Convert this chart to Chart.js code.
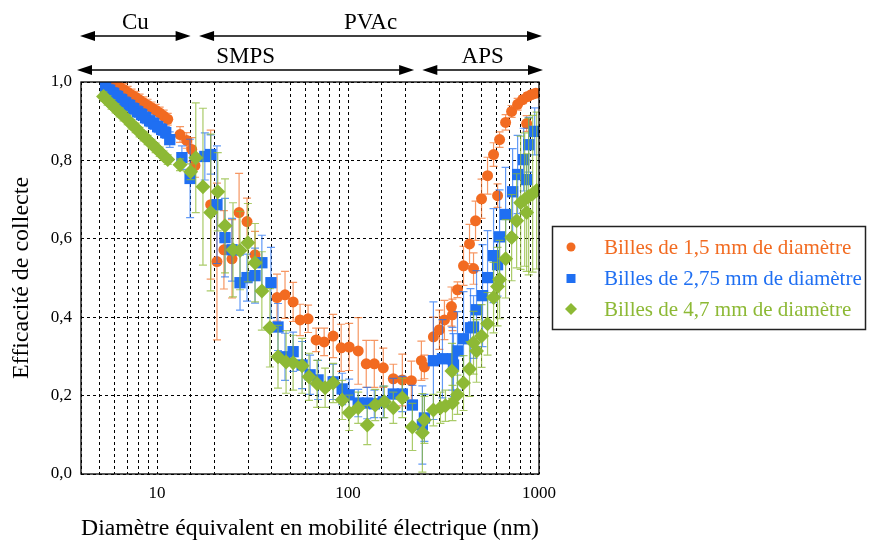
<!DOCTYPE html>
<html>
<head>
<meta charset="utf-8">
<script src="https://cdn.jsdelivr.net/npm/chart.js@4.4.1/dist/chart.umd.min.js"></script>
<style>
  html, body { margin: 0; padding: 0; background: #fff; }
  #wrap { width: 869px; height: 543px; }
</style>
</head>
<body>
<div id="wrap"><canvas id="c" width="869" height="543"></canvas></div>
<script>
// Collection efficiency vs. electrical mobility equivalent diameter (nm)
const seriesLabels = [
  'Billes de 1,5 mm de diamètre',
  'Billes de 2,75 mm de diamètre',
  'Billes de 4,7 mm de diamètre'
];
const xTitle = 'Diamètre équivalent en mobilité électrique (nm)';
const yTitle = 'Efficacité de collecte';
const xTickLabels = [10, 100, 1000];

// 1,5 mm beads
const dOrange = [6.07, 6.37, 6.69, 7.02, 7.36, 7.73, 8.11, 8.51, 8.93, 9.38, 9.84, 10.33, 10.84, 11.38,
  13.2, 14.3, 15.2, 15.8,
  19.1, 20.6, 22.4, 24.7, 26.9, 29.6, 32.6,
  42.5, 46.8, 51.6, 56.1, 61.8, 68.1, 75.0, 83.6, 92.1, 101.4, 113.1, 124.6, 137.3, 153.0, 172.7, 192.5, 214.7, 242.2, 251.2,
  280.0, 301.0, 319.8, 348.0, 352.3, 374.3, 402.5, 432.7, 454.2, 465.3, 500.3, 537.8, 578.2, 606.9, 621.7, 668.6, 718.9, 772.9, 821.0, 861.7, 872.2, 915.4, 960.8];
const eOrange = [0.993, 0.987, 0.981, 0.974, 0.967, 0.961, 0.954, 0.947, 0.941, 0.934, 0.928, 0.921, 0.913, 0.905,
  0.866, 0.851, 0.828, 0.787,
  0.687, 0.542, 0.572, 0.549, 0.667, 0.644, 0.559,
  0.450, 0.457, 0.439, 0.393, 0.396, 0.342, 0.337, 0.352, 0.322, 0.324, 0.314, 0.281, 0.281, 0.271, 0.243, 0.240, 0.238, 0.289, 0.273,
  0.350, 0.368, 0.393, 0.427, 0.406, 0.470, 0.531, 0.587, 0.524, 0.646, 0.702, 0.761, 0.815, 0.710, 0.853, 0.897, 0.925, 0.943, 0.955, 0.894, 0.963, 0.968, 0.971];
const errOrange = [0.015, 0.015, 0.015, 0.015, 0.015, 0.015, 0.015, 0.015, 0.015, 0.015, 0.015, 0.015, 0.015, 0.015,
  0.02, 0.02, 0.03, 0.03,
  0.19, 0.2, 0.1, 0.1, 0.1, 0.06, 0.06,
  0.06, 0.06, 0.05, 0.04, 0.035, 0.03, 0.035, 0.055, 0.06, 0.06, 0.085, 0.06, 0.06, 0.05, 0.037, 0.066, 0.05, 0.05, 0.03,
  0.05, 0.05, 0.05, 0.05, 0.04, 0.02, 0.05, 0.05, 0.04, 0.05, 0.05, 0.047, 0.03, 0.03, 0.02, 0.02, 0.015, 0.015, 0.01, 0.02, 0.01, 0.01, 0.01];

// 2,75 mm beads
const dBlue = [5.38, 5.65, 5.93, 6.22, 6.53, 6.85, 7.19, 7.55, 7.92, 8.31, 8.72, 9.15, 9.61, 10.08, 10.58, 11.11,
  11.66, 13.5, 14.9, 17.8, 19.1, 20.6, 22.7, 24.7, 27.2, 29.6,
  32.6, 35.4, 39.5, 43.0, 46.8, 51.6, 57.5, 63.3, 69.7, 83.6,
  93.2, 101.4, 113.1, 126.1, 137.3, 153.0, 172.7, 192.5, 217.3, 245.1,
  251.2, 280.0, 312.2, 352.3, 356.6, 374.3, 402.5, 438.0, 454.2, 470.9,
  506.3, 537.8, 578.2, 606.9, 621.7, 668.6, 727.6, 772.9, 831.0, 861.7,
  882.8, 949.3];
const eBlue = [0.986, 0.979, 0.971, 0.963, 0.955, 0.947, 0.940, 0.932, 0.924, 0.917, 0.909, 0.901, 0.894, 0.886, 0.879, 0.871,
  0.853, 0.807, 0.754, 0.810, 0.815, 0.687, 0.603, 0.572, 0.488, 0.501,
  0.506, 0.539, 0.488, 0.375, 0.299, 0.312, 0.278, 0.253, 0.240, 0.235,
  0.217, 0.202, 0.181, 0.181, 0.179, 0.184, 0.204, 0.204, 0.176, 0.125,
  0.143, 0.289, 0.294, 0.294, 0.278, 0.314, 0.345, 0.373, 0.375, 0.419,
  0.455, 0.501, 0.557, 0.534, 0.605, 0.662, 0.720, 0.764, 0.802, 0.751,
  0.840, 0.874];
const errBlue = [0.015, 0.015, 0.015, 0.015, 0.015, 0.015, 0.015, 0.015, 0.015, 0.015, 0.015, 0.015, 0.015, 0.015, 0.015, 0.015,
  0.02, 0.03, 0.1, 0.06, 0.05, 0.15, 0.1, 0.08, 0.07, 0.06,
  0.07, 0.07, 0.09, 0.06, 0.06, 0.05, 0.06, 0.05, 0.05, 0.045,
  0.04, 0.04, 0.035, 0.04, 0.035, 0.04, 0.04, 0.045, 0.05, 0.1,
  0.06, 0.15, 0.1, 0.08, 0.08, 0.1, 0.12, 0.1, 0.08, 0.1,
  0.13, 0.12, 0.12, 0.08, 0.12, 0.12, 0.11, 0.1, 0.08, 0.05,
  0.07, 0.06];

// 4,7 mm beads
const dGreen = [5.25, 5.51, 5.78, 6.07, 6.37, 6.69, 7.02, 7.36, 7.73, 8.11, 8.51, 8.93, 9.38, 9.84, 10.33, 10.84, 11.38,
  13.2, 15.0, 15.96, 17.4, 19.1, 20.8, 22.7, 25.0, 27.2, 29.9,
  32.6, 35.4, 39.0, 43.0, 47.4, 51.6, 57.5, 62.5, 68.9, 75.9,
  83.6, 93.2, 101.4, 113.1, 126.1, 138.9, 154.9, 172.7, 192.5, 217.3,
  245.1, 251.2, 280.0, 304.7, 323.7, 352.3, 374.3, 350.0, 402.5, 432.7,
  454.2, 470.9, 500.3, 537.8, 578.2, 606.9, 621.7, 668.6, 718.9, 763.6,
  801.4, 841.3, 861.7, 882.8, 926.6, 972.5];
const eGreen = [0.963, 0.953, 0.943, 0.933, 0.923, 0.913, 0.903, 0.892, 0.883, 0.872, 0.862, 0.852, 0.842, 0.832, 0.822, 0.812, 0.802,
  0.789, 0.771, 0.807, 0.733, 0.667, 0.720, 0.633, 0.572, 0.570, 0.590,
  0.539, 0.467, 0.373, 0.299, 0.286, 0.284, 0.276, 0.248, 0.230, 0.220,
  0.232, 0.189, 0.156, 0.169, 0.125, 0.176, 0.184, 0.169, 0.194, 0.120,
  0.105, 0.138, 0.163, 0.169, 0.174, 0.181, 0.202, 0.263, 0.232, 0.268,
  0.335, 0.314, 0.352, 0.383, 0.450, 0.478, 0.496, 0.549, 0.603, 0.646,
  0.692, 0.700, 0.667, 0.708, 0.715, 0.723];
const errGreen = [0.012, 0.012, 0.012, 0.012, 0.012, 0.012, 0.012, 0.012, 0.012, 0.012, 0.012, 0.012, 0.012, 0.012, 0.012, 0.012, 0.012,
  0.015, 0.02, 0.14, 0.2, 0.2, 0.1, 0.12, 0.12, 0.1, 0.1,
  0.1, 0.1, 0.1, 0.08, 0.08, 0.07, 0.07, 0.06, 0.06, 0.05,
  0.05, 0.05, 0.045, 0.04, 0.05, 0.04, 0.04, 0.04, 0.05, 0.06,
  0.1, 0.06, 0.04, 0.04, 0.04, 0.045, 0.05, 0.07, 0.07, 0.07,
  0.08, 0.08, 0.08, 0.08, 0.09, 0.1, 0.1, 0.1, 0.11, 0.12,
  0.17, 0.17, 0.15, 0.2, 0.2, 0.2];

const COLORS = {
  orange: '#F26B21', blue: '#1F6FF2', green: '#8DB935',
  orangeBar: 'rgba(242,107,33,0.7)', blueBar: 'rgba(31,111,242,0.7)', greenBar: 'rgba(141,185,53,0.75)'
};
const SERIF = '"Liberation Serif", "Times New Roman", Times, serif';

const toPoints = (xs, ys) => xs.map((x, i) => ({ x: x, y: ys[i] }));

// vertical error bars, drawn just before each dataset's markers
const errorBars = {
  id: 'errorBars',
  beforeDatasetDraw(chart, args) {
    const ds = chart.data.datasets[args.index];
    const { ctx, chartArea, scales } = chart;
    const ys = scales.y;
    ctx.save();
    ctx.beginPath();
    ctx.rect(chartArea.left, chartArea.top, chartArea.right - chartArea.left, chartArea.bottom - chartArea.top);
    ctx.clip();
    ctx.strokeStyle = ds.errColor;
    ctx.lineWidth = 1.2;
    args.meta.data.forEach((pt, i) => {
      const v = ds.data[i].y, e = ds.errs[i];
      const x = pt.x;
      const y1 = ys.getPixelForValue(v + e), y2 = ys.getPixelForValue(v - e);
      ctx.beginPath();
      ctx.moveTo(x, y1); ctx.lineTo(x, y2);
      ctx.moveTo(x - 4, y1); ctx.lineTo(x + 4, y1);
      ctx.moveTo(x - 4, y2); ctx.lineTo(x + 4, y2);
      ctx.stroke();
    });
    ctx.restore();
  }
};

// plot frame, range annotations above the plot, boxed legend on the right
const decorations = {
  id: 'decorations',
  afterDraw(chart) {
    const { ctx, chartArea: a, scales } = chart;
    const xs = scales.x;
    ctx.save();
    ctx.strokeStyle = '#000';
    ctx.lineWidth = 1.3;
    ctx.strokeRect(a.left, a.top, a.right - a.left, a.bottom - a.top);

    const arrow = (x1, x2, y) => {
      const hl = 15, hw = 5;
      ctx.fillStyle = '#000';
      ctx.lineWidth = 1.5;
      ctx.beginPath();
      ctx.moveTo(x1 + hl - 2, y); ctx.lineTo(x2 - hl + 2, y);
      ctx.stroke();
      ctx.beginPath();
      ctx.moveTo(x1, y); ctx.lineTo(x1 + hl, y - hw); ctx.lineTo(x1 + hl, y + hw); ctx.closePath();
      ctx.fill();
      ctx.beginPath();
      ctx.moveTo(x2, y); ctx.lineTo(x2 - hl, y - hw); ctx.lineTo(x2 - hl, y + hw); ctx.closePath();
      ctx.fill();
    };
    const label = (text, x1, x2, y) => {
      ctx.fillStyle = '#000';
      ctx.font = '23px ' + SERIF;
      ctx.textAlign = 'center';
      ctx.textBaseline = 'alphabetic';
      ctx.fillText(text, (x1 + x2) / 2, y);
    };
    const cuL = a.left - 1, cuR = xs.getPixelForValue(15.0);
    const pvL = xs.getPixelForValue(16.6), pvR = a.right + 3;
    const smL = a.left - 4, smR = xs.getPixelForValue(222);
    const apL = xs.getPixelForValue(245), apR = a.right + 4;
    arrow(cuL, cuR, 36); label('Cu', cuL, cuR, 29);
    arrow(pvL, pvR, 36); label('PVAc', pvL, pvR, 29);
    arrow(smL, smR, 70); label('SMPS', smL, smR, 63);
    arrow(apL, apR, 70); label('APS', apL, apR, 63);

    // legend
    ctx.lineWidth = 1.5;
    ctx.strokeStyle = '#222';
    ctx.strokeRect(552.5, 226.5, 313, 103);
    const rows = [
      { y: 247, color: COLORS.orange, shape: 'circle' },
      { y: 278.5, color: COLORS.blue, shape: 'square' },
      { y: 309, color: COLORS.green, shape: 'diamond' }
    ];
    rows.forEach((r, i) => {
      const mx = 571;
      ctx.fillStyle = r.color;
      ctx.beginPath();
      if (r.shape === 'circle') ctx.arc(mx, r.y, 4.5, 0, Math.PI * 2);
      else if (r.shape === 'square') ctx.rect(mx - 4.5, r.y - 4.5, 9, 9);
      else { ctx.moveTo(mx - 6, r.y); ctx.lineTo(mx, r.y - 6); ctx.lineTo(mx + 6, r.y); ctx.lineTo(mx, r.y + 6); ctx.closePath(); }
      ctx.fill();
      ctx.font = '21px ' + SERIF;
      ctx.textAlign = 'left';
      ctx.textBaseline = 'middle';
      ctx.fillText(seriesLabels[i], 604, r.y + 1);
    });
    ctx.restore();
  }
};

const datasets = [
  { label: seriesLabels[0], data: toPoints(dOrange, eOrange), errs: errOrange, errColor: COLORS.orangeBar,
    pointStyle: 'circle', pointRadius: 5.5, backgroundColor: COLORS.orange, borderColor: COLORS.orange, borderWidth: 0, order: 3 },
  { label: seriesLabels[1], data: toPoints(dBlue, eBlue), errs: errBlue, errColor: COLORS.blueBar,
    pointStyle: 'rect', pointRadius: 8, backgroundColor: COLORS.blue, borderColor: COLORS.blue, borderWidth: 0, order: 2 },
  { label: seriesLabels[2], data: toPoints(dGreen, eGreen), errs: errGreen, errColor: COLORS.greenBar,
    pointStyle: 'rectRot', pointRadius: 7.5, backgroundColor: COLORS.green, borderColor: COLORS.green, borderWidth: 0, order: 1 }
];

new Chart(document.getElementById('c'), {
  type: 'scatter',
  data: { datasets: datasets },
  options: {
    responsive: false,
    animation: false,
    events: [],
    layout: { padding: { left: 0, right: 330, top: 82, bottom: 0 } },
    plugins: { legend: { display: false }, tooltip: { enabled: false } },
    scales: {
      x: {
        type: 'logarithmic',
        min: 4, max: 1000,
        afterFit(s) { s.height = 69; },
        grid: { color: '#000', lineWidth: 1, drawTicks: false },
        border: { display: false, dash: [3, 3] },
        ticks: {
          autoSkip: false, maxRotation: 0, padding: 9, color: '#000',
          font: { family: SERIF, size: 17 },
          callback: (v) => {
            const t = xTickLabels.find(k => Math.abs(k - v) / k < 1e-6);
            return t ? String(t) : '';
          }
        },
        title: { display: true, text: xTitle, color: '#000', font: { family: SERIF, size: 24 }, padding: { top: 0, bottom: 0 } }
      },
      y: {
        min: 0, max: 1,
        afterFit(s) { s.width = 81; },
        grid: { color: '#000', lineWidth: 1, drawTicks: false },
        border: { display: false, dash: [3, 3] },
        ticks: {
          stepSize: 0.2, padding: 9, color: '#000',
          font: { family: SERIF, size: 17 },
          callback: (v) => Number(v).toFixed(1).replace('.', ',')
        },
        title: { display: true, text: yTitle, color: '#000', font: { family: SERIF, size: 24 }, padding: { top: 7, bottom: 0 } }
      }
    }
  },
  plugins: [errorBars, decorations]
});
</script>
</body>
</html>
